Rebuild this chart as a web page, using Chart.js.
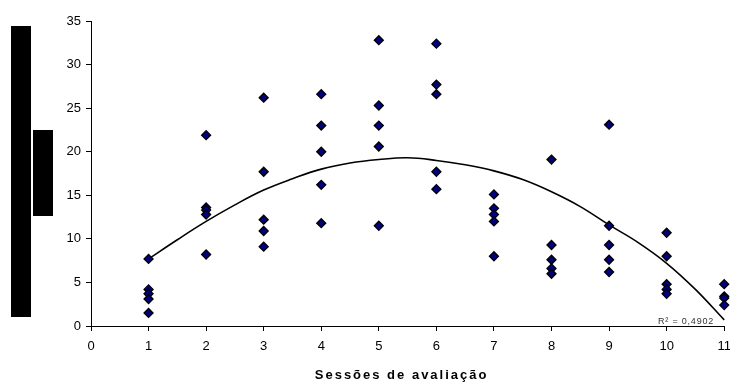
<!DOCTYPE html>
<html>
<head>
<meta charset="utf-8">
<script src="https://cdn.jsdelivr.net/npm/chart.js@4/dist/chart.umd.min.js"></script>
<style>
  html, body { margin: 0; padding: 0; background: #fff; }
  #wrap { width: 730px; height: 383px; position: relative; }
</style>
</head>
<body>
<div id="wrap"><canvas id="c" width="730" height="383"></canvas></div>
<script>
// ---- Data ----
const sessions = [1, 2, 3, 4, 5, 6, 7, 8, 9, 10, 11];
const session1  = [7.7, 4.2, 3.7, 3.1, 1.5];
const session2  = [21.9, 13.6, 13.3, 12.8, 8.2];
const session3  = [26.2, 17.7, 12.2, 10.9, 9.1];
const session4  = [26.6, 23.0, 20.0, 16.2, 11.8];
const session5  = [32.8, 25.3, 23.0, 20.6, 11.5];
const session6  = [32.4, 27.7, 26.6, 17.7, 15.7];
const session7  = [15.1, 13.5, 12.8, 12.0, 8.0];
const session8  = [19.1, 9.3, 7.6, 6.6, 6.0];
const session9  = [23.1, 11.5, 9.3, 7.6, 6.2];
const session10 = [10.7, 8.0, 4.8, 4.2, 3.7];
const session11 = [4.8, 3.4, 3.2, 2.4];
const sessionValues = [session1, session2, session3, session4, session5, session6,
                       session7, session8, session9, session10, session11];

const trendX = [1, 1.5, 2, 2.5, 3, 3.5, 4, 4.5, 5, 5.5, 6, 6.5, 7, 7.5, 8, 8.5, 9, 9.5, 10, 10.5, 11];
const trendY = [7.7, 9.9, 12.0, 13.9, 15.6, 16.9, 18.0, 18.7, 19.1, 19.3, 19.0, 18.5, 17.8, 16.8, 15.4, 13.7, 11.6, 9.6, 7.2, 4.2, 0.7];

const xTicks = [0, 1, 2, 3, 4, 5, 6, 7, 8, 9, 10, 11];
const yTicks = [0, 5, 10, 15, 20, 25, 30, 35];
const xTitle = 'Sessões de avaliação';
const r2Label = 'R² = 0,4902';

// ---- Build datasets ----
const scatterPoints = [];
sessions.forEach((s, i) => sessionValues[i].forEach(v => scatterPoints.push({ x: s, y: v })));
const trendPoints = trendX.map((x, i) => ({ x: x, y: trendY[i] }));

const FONT = "'Liberation Sans', Arial, sans-serif";

const extras = {
  id: 'extras',
  afterDraw(chart) {
    const ctx = chart.ctx;
    ctx.save();
    // black blocks on the left (masked axis title)
    ctx.fillStyle = '#000';
    ctx.fillRect(11, 26, 20, 291);
    ctx.fillRect(33, 130, 20, 86);
    // R² label
    ctx.fillStyle = '#333';
    ctx.font = '9px ' + FONT;
    ctx.letterSpacing = '0.8px';
    ctx.textBaseline = 'middle';
    ctx.textAlign = 'left';
    ctx.fillText(r2Label, 658, 322);
    ctx.restore();
  }
};

new Chart(document.getElementById('c'), {
  type: 'scatter',
  data: {
    datasets: [
      {
        label: 'Trend',
        type: 'line',
        data: trendPoints,
        borderColor: '#000',
        borderWidth: 1.6,
        pointRadius: 0,
        tension: 0.4,
        fill: false,
        clip: false,
        order: 2
      },
      {
        label: 'Values',
        data: scatterPoints,
        pointStyle: 'rectRot',
        pointRadius: 4.5,
        pointHoverRadius: 4.5,
        backgroundColor: '#000080',
        borderColor: '#000',
        borderWidth: 1.3,
        clip: false,
        order: 1
      }
    ]
  },
  options: {
    responsive: false,
    animation: false,
    events: [],
    layout: { padding: { left: 0, right: 4, top: 21, bottom: 0 } },
    plugins: { legend: { display: false }, tooltip: { enabled: false } },
    scales: {
      x: {
        type: 'linear',
        min: 0, max: 11,
        afterBuildTicks(scale) { scale.ticks = xTicks.map(v => ({ value: v })); },
        afterFit(scale) { scale.height = 57; scale.paddingRight = 0; scale.paddingLeft = 0; },
        afterUpdate(scale) {
          if (!scale._lsPatched) {
            const orig = scale.drawTitle.bind(scale);
            scale.drawTitle = function () {
              const ctx = scale.ctx;
              ctx.save();
              ctx.letterSpacing = '2px';
              ctx.translate(-6, 0);
              orig();
              ctx.restore();
            };
            scale._lsPatched = true;
          }
        },
        grid: { display: true, drawOnChartArea: false, drawTicks: true, tickLength: 5, color: '#000', lineWidth: 1 },
        border: { display: true, color: '#000', width: 1 },
        ticks: { color: '#000', font: { family: FONT, size: 13 }, padding: 8, maxRotation: 0, autoSkip: false },
        title: {
          display: true,
          text: xTitle,
          color: '#000',
          font: { family: FONT, size: 13, weight: 'bold' },
          padding: { top: 0, bottom: 0 }
        }
      },
      y: {
        type: 'linear',
        min: 0, max: 35,
        afterBuildTicks(scale) { scale.ticks = yTicks.map(v => ({ value: v })); },
        afterFit(scale) { scale.width = 91; },
        grid: { display: true, drawOnChartArea: false, drawTicks: true, tickLength: 5, color: '#000', lineWidth: 1 },
        border: { display: true, color: '#000', width: 1 },
        ticks: { color: '#000', font: { family: FONT, size: 13 }, padding: 5 }
      }
    }
  },
  plugins: [extras]
});
</script>
</body>
</html>
